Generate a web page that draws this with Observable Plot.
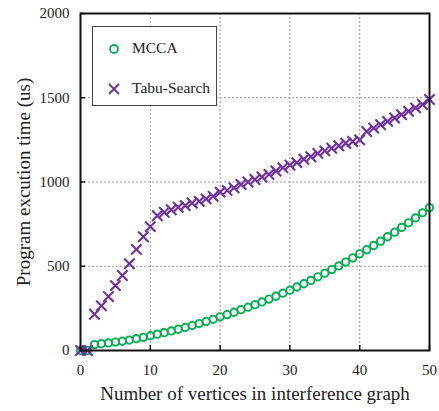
<!DOCTYPE html>
<html>
<head>
<meta charset="utf-8">
<script src="https://cdn.jsdelivr.net/npm/d3@7"></script>
<script src="https://cdn.jsdelivr.net/npm/@observablehq/plot@0.6"></script>
<style>
  body { margin: 0; background: #fff; }
  #wrap, #wrap * { font-family: "Liberation Serif", "Times New Roman", serif !important; }
  #wrap { position: relative; width: 439px; height: 411px; }
  #legend { position: absolute; left: 92px; top: 26px; width: 125px; height: 80px; border: 1.5px solid #444; background: #fff; box-sizing: border-box; }
  .item { position: absolute; left: 0; font-size: 15.5px; color: #222; line-height: 1; }
  .item svg { position: absolute; left: 14px; top: -6px; }
  .item span { position: absolute; left: 39px; top: -8px; white-space: nowrap; }
  svg [aria-label="x-axis label"] text, svg [aria-label="y-axis label"] text { font-size: 19px; }
</style>
</head>
<body>
<div id="wrap"></div>
<script>
const vertices = d3.range(0, 51);
const mccaTime = [0, 0, 35, 40, 45, 50, 55, 62, 70, 78, 88, 97, 106, 116, 126, 137, 148, 160, 172, 185,
  200, 213, 227, 242, 257, 272, 288, 305, 322, 340, 358, 377, 396, 416, 437, 458, 480, 502, 525, 549,
  574, 598, 623, 649, 675, 702, 730, 758, 787, 817, 848];
const tabuTime = [0, 0, 215, 265, 320, 385, 445, 515, 600, 675, 735, 800, 820, 835, 850, 860, 875, 885, 900, 915,
  940, 950, 965, 985, 1000, 1015, 1030, 1045, 1065, 1085, 1100, 1115, 1135, 1150, 1170, 1185, 1200, 1215, 1230, 1240,
  1250, 1300, 1320, 1340, 1360, 1380, 1400, 1420, 1440, 1460, 1490];
const xTicks = [0, 10, 20, 30, 40, 50];
const yTicks = [0, 500, 1000, 1500, 2000];
const seriesNames = ["MCCA", "Tabu-Search"];
const colors = ["#00b050", "#7030a0"];

const mcca = vertices.map((v, i) => ({x: v, y: mccaTime[i]}));
const tabu = vertices.map((v, i) => ({x: v, y: tabuTime[i]}));

const chart = Plot.plot({
  width: 439, height: 411,
  marginTop: 13, marginRight: 10, marginBottom: 61, marginLeft: 80,
  style: {fontFamily: "'Liberation Serif', 'Times New Roman', serif", fontSize: "15px", color: "#222", background: "#fff", overflow: "visible"},
  x: {domain: [0, 50]},
  y: {domain: [0, 2000]},
  marks: [
    Plot.gridX(xTicks.slice(1, -1), {stroke: "#999", strokeOpacity: 1, strokeDasharray: "2,2"}),
    Plot.gridY(yTicks.slice(1, -1), {stroke: "#999", strokeOpacity: 1, strokeDasharray: "2,2"}),
    Plot.dot(mcca, {x: "x", y: "y", r: 3.7, stroke: colors[0], strokeWidth: 1.9, fill: "none"}),
    Plot.dot(tabu, {x: "x", y: "y", r: 4.8, symbol: "times", stroke: colors[1], strokeWidth: 2.1}),
    Plot.frame({stroke: "#111", strokeWidth: 2}),
    Plot.axisX(xTicks, {tickSize: 0, tickPadding: 14, tickFormat: d3.format("d"), label: "Number of vertices in interference graph", labelAnchor: "center", labelArrow: "none", labelOffset: 49}),
    Plot.axisX(xTicks, {tickSize: -5, tickFormat: () => "", label: null, stroke: "#111", strokeWidth: 1.5}),
    Plot.axisY(yTicks, {tickSize: 0, tickPadding: 11, tickFormat: d3.format("d"), label: "Program excution time (us)", labelAnchor: "center", labelArrow: "none", labelOffset: 64}),
    Plot.axisY(yTicks, {tickSize: -5, tickFormat: () => "", label: null, stroke: "#111", strokeWidth: 1.5})
  ]
});
const wrap = document.getElementById("wrap");
wrap.appendChild(chart);

const legend = document.createElement("div");
legend.id = "legend";
legend.innerHTML = `
  <div class="item" style="top:21px"><svg width="14" height="14" viewBox="-7 -7 14 14"><circle r="4" fill="none" stroke="${colors[0]}" stroke-width="1.8"/></svg><span>${seriesNames[0]}</span></div>
  <div class="item" style="top:61px"><svg width="14" height="14" viewBox="-7 -7 14 14"><path d="M-5,-5L5,5M-5,5L5,-5" stroke="${colors[1]}" stroke-width="1.8"/></svg><span>${seriesNames[1]}</span></div>`;
wrap.appendChild(legend);
</script>
</body>
</html>
